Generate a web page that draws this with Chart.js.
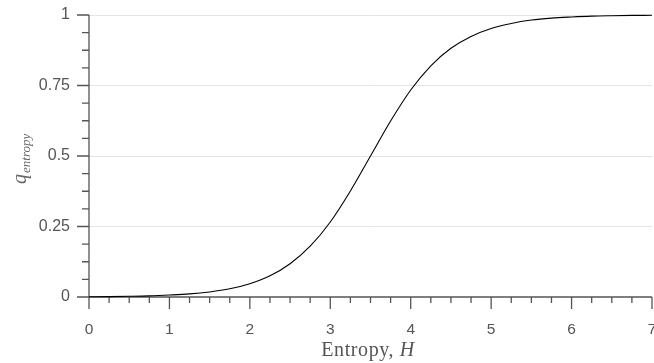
<!DOCTYPE html>
<html><head><meta charset="utf-8">
<script src="https://cdn.jsdelivr.net/npm/chart.js@4"></script>
<style>html,body{margin:0;padding:0;background:#fff;overflow:hidden}</style>
</head><body>
<canvas id="c" width="654" height="363"></canvas>
<script>
// ---- data ----
const entropyH = [0,0.25,0.5,0.75,1,1.25,1.5,1.75,2,2.25,2.5,2.75,3,3.25,3.5,3.75,4,4.25,4.5,4.75,5,5.25,5.5,5.75,6,6.25,6.5,6.75,7];
const qEntropy = [0.001,0.0015,0.0025,0.004,0.007,0.011,0.018,0.029,0.047,0.075,0.118,0.18,0.266,0.376,0.5,0.624,0.734,0.82,0.882,0.924,0.952,0.97,0.982,0.989,0.993,0.996,0.9975,0.9985,0.999];
const xTickLabels = ['0','1','2','3','4','5','6','7'];
const yTickLabels = ['0','0.25','0.5','0.75','1'];
const xTitle = 'Entropy, ';
const xTitleItalic = 'H';
const yTitleMain = 'q';
const yTitleSub = 'entropy';

const points = entropyH.map((h, i) => ({x: h, y: qEntropy[i]}));
const AXIS = '#555555';
const LABEL = '#555555';

function labelFor(list, v) {
  const f = list.find(s => Math.abs(Number(s) - v) < 1e-9);
  return f === undefined ? '' : f;
}

const axesPlugin = {
  id: 'axesPlugin',
  beforeDatasetsDraw(chart) {
    const ctx = chart.ctx, xs = chart.scales.x, ys = chart.scales.y;
    const x0 = xs.getPixelForValue(0), x1 = xs.getPixelForValue(7);
    const y0 = ys.getPixelForValue(0), y1 = ys.getPixelForValue(1);
    ctx.save();
    ctx.strokeStyle = AXIS;
    ctx.lineWidth = 1.3;
    ctx.beginPath();
    ctx.moveTo(x0, y1); ctx.lineTo(x0, y0);
    ctx.moveTo(x0, y0); ctx.lineTo(x1, y0);
    xs.ticks.forEach(t => {
      const px = xs.getPixelForValue(t.value);
      const major = Math.abs(t.value - Math.round(t.value)) < 1e-9;
      ctx.moveTo(px, y0); ctx.lineTo(px, y0 + (major ? 12 : 6));
    });
    ys.ticks.forEach(t => {
      const py = ys.getPixelForValue(t.value);
      const major = Math.abs(t.value * 4 - Math.round(t.value * 4)) < 1e-9;
      ctx.moveTo(x0, py); ctx.lineTo(x0 - (major ? 12 : 7), py);
    });
    ctx.stroke();
    ctx.restore();
  },
  afterDraw(chart) {
    const ctx = chart.ctx;
    ctx.save();
    ctx.fillStyle = '#555555';
    ctx.textBaseline = 'alphabetic';
    ctx.letterSpacing = '0.6px';
    ctx.font = '20px "Liberation Serif", serif';
    const w1 = ctx.measureText(xTitle).width;
    ctx.font = 'italic 20px "Liberation Serif", serif';
    const w2 = ctx.measureText(xTitleItalic).width;
    const cx = 368;
    let sx = cx - (w1 + w2) / 2;
    ctx.font = '20px "Liberation Serif", serif';
    ctx.fillText(xTitle, sx, 356);
    ctx.font = 'italic 20px "Liberation Serif", serif';
    ctx.fillText(xTitleItalic, sx + w1, 356);
    ctx.letterSpacing = '0px';
    ctx.fillStyle = '#666666';
    ctx.translate(26, 184);
    ctx.rotate(-Math.PI / 2);
    ctx.font = 'italic 20px "Liberation Serif", serif';
    ctx.fillText(yTitleMain, 0, 0);
    const wq = ctx.measureText(yTitleMain).width;
    ctx.font = 'italic 13px "Liberation Serif", serif';
    ctx.fillText(yTitleSub, wq + 1, 4);
    ctx.restore();
  }
};

new Chart(document.getElementById('c'), {
  type: 'line',
  data: {
    datasets: [{
      data: points,
      borderColor: '#000000',
      borderWidth: 1.1,
      pointRadius: 0,
      fill: false,
      cubicInterpolationMode: 'monotone',
      clip: false
    }]
  },
  options: {
    responsive: false,
    animation: false,
    devicePixelRatio: 1,
    layout: {padding: {top: 15, right: 2, left: 0, bottom: 0}},
    plugins: {legend: {display: false}, tooltip: {enabled: false}, title: {display: false}},
    scales: {
      x: {
        type: 'linear', min: 0, max: 7,
        border: {display: false},
        grid: {display: false, drawTicks: false},
        ticks: {
          stepSize: 0.25, autoSkip: false, maxRotation: 0, padding: 23,
          color: LABEL, font: {family: '"Liberation Sans", Arial, sans-serif', size: 15.5},
          callback: v => labelFor(xTickLabels, v)
        },
        afterFit(s) { s.height = 66; s.paddingLeft = 0; s.paddingRight = 0; }
      },
      y: {
        type: 'linear', min: 0, max: 1,
        border: {display: false},
        grid: {
          drawTicks: false,
          color: c => (c.tick && c.tick.value > 0 && Math.abs(c.tick.value * 4 - Math.round(c.tick.value * 4)) < 1e-9) ? '#e4e4e4' : 'rgba(0,0,0,0)',
          lineWidth: 1
        },
        ticks: {
          stepSize: 0.0625, autoSkip: false, padding: 19,
          color: LABEL, font: {family: '"Liberation Sans", Arial, sans-serif', size: 16},
          callback: v => labelFor(yTickLabels, v)
        },
        afterFit(s) { s.width = 89; s.paddingTop = 0; s.paddingBottom = 0; }
      }
    }
  },
  plugins: [axesPlugin]
});
</script>
</body></html>
